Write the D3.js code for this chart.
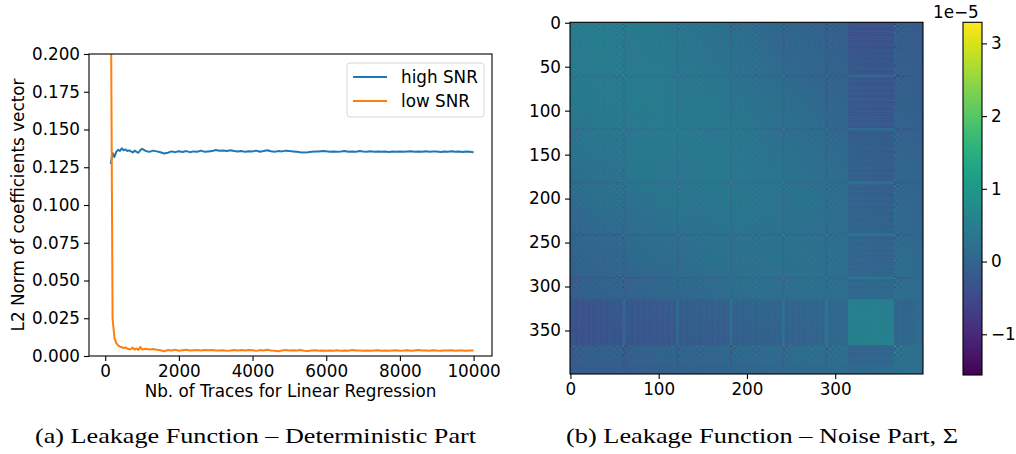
<!DOCTYPE html>
<html>
<head>
<meta charset="utf-8">
<script src="https://d3js.org/d3.v7.min.js"></script>
<style>
body { margin: 0; background: #fff; }
svg text { font-family: "DejaVu Sans", sans-serif; fill: #000; }
.caption { font-family: "Liberation Serif", "DejaVu Serif", serif; }
</style>
</head>
<body>
<svg id="fig" width="1016" height="454"></svg>
<script>
// ---------- (a) data: L2 norm vs number of traces ----------
const traces = d3.range(150, 1001, 50).concat(d3.range(1100, 10001, 100));
const highSNR = [
  0.1272, 0.1345, 0.1318, 0.1352, 0.1365, 0.1358, 0.1376, 0.1362, 0.1368, 0.1357,
  0.1362, 0.1355, 0.1348, 0.1360, 0.1352, 0.1346, 0.1362, 0.1372,
  0.1358, 0.1352, 0.1360, 0.1355, 0.1349, 0.1341, 0.1346, 0.1355, 0.1350, 0.1356,
  0.1351, 0.1357, 0.1350, 0.1355, 0.1353, 0.1360, 0.1352, 0.1355, 0.1357, 0.1364,
  0.1359, 0.1361, 0.1358, 0.1362, 0.1357, 0.1354, 0.1358, 0.1352, 0.1356, 0.1355,
  0.1360, 0.1353, 0.1357, 0.1362, 0.1356, 0.1352, 0.1358, 0.1355, 0.1360, 0.1357,
  0.1355, 0.1353, 0.1350, 0.1348, 0.1349, 0.1352, 0.1355, 0.1354, 0.1357, 0.1356,
  0.1353, 0.1355, 0.1352, 0.1354, 0.1357, 0.1353, 0.1355, 0.1352, 0.1358, 0.1354,
  0.1352, 0.1356, 0.1353, 0.1355, 0.1352, 0.1354, 0.1351, 0.1354, 0.1353, 0.1355,
  0.1352, 0.1354, 0.1356, 0.1352, 0.1355, 0.1353, 0.1356, 0.1352, 0.1354, 0.1355,
  0.1351, 0.1355, 0.1353, 0.1356, 0.1352, 0.1354, 0.1351, 0.1355, 0.1353, 0.1350
];
const lowSNR = [
  0.2600, 0.0250, 0.0120, 0.0085, 0.0070, 0.0062, 0.0058, 0.0052, 0.0057, 0.0049,
  0.0045, 0.0047, 0.0055, 0.0042, 0.0050, 0.0040, 0.0060, 0.0043,
  0.0048, 0.0043, 0.0046, 0.0041, 0.0038, 0.0031, 0.0040, 0.0036, 0.0042, 0.0035,
  0.0038, 0.0041, 0.0036, 0.0038, 0.0040, 0.0037, 0.0039, 0.0038, 0.0040, 0.0037,
  0.0036, 0.0038, 0.0034, 0.0036, 0.0039, 0.0037, 0.0039, 0.0036, 0.0040, 0.0038,
  0.0034, 0.0039, 0.0036, 0.0041, 0.0037, 0.0035, 0.0032, 0.0037, 0.0039, 0.0036,
  0.0038, 0.0036, 0.0039, 0.0035, 0.0033, 0.0036, 0.0038, 0.0035, 0.0037, 0.0034,
  0.0036, 0.0035, 0.0038, 0.0034, 0.0036, 0.0035, 0.0039, 0.0036, 0.0037, 0.0035,
  0.0037, 0.0034, 0.0036, 0.0038, 0.0035, 0.0037, 0.0034, 0.0036, 0.0038, 0.0035,
  0.0036, 0.0038, 0.0035, 0.0037, 0.0039, 0.0036, 0.0037, 0.0035, 0.0038, 0.0036,
  0.0035, 0.0037, 0.0036, 0.0038, 0.0035, 0.0037, 0.0036, 0.0035, 0.0037, 0.0036
];
const seriesNames = ["high SNR", "low SNR"];
const seriesColors = ["#1f77b4", "#ff7f0e"];
const xTicksA = [0, 2000, 4000, 6000, 8000, 10000];
const yTicksA = [0, 0.025, 0.05, 0.075, 0.1, 0.125, 0.15, 0.175, 0.2];

// ---------- (b) data: noise covariance Sigma (x 1e-5) ----------
const covSize = 400;
const xTicksB = [0, 100, 200, 300];
const yTicksB = [0, 50, 100, 150, 200, 250, 300, 350];
const cbarDomain = [-1.56, 3.29];
const cbarTicks = [-1, 0, 1, 2, 3];
// band level by distance from diagonal, at |i-j| = 0, 50, ..., 400
const distLevels = [0.3, 0.28, 0.22, 0.13, 0.03, -0.05, -0.12, -0.16, -0.2];
// level by index, at i = 0, 50, ..., 400
const idxLevels = [0.05, 0.05, 0.04, 0.03, 0.0, -0.04, -0.06, -0.06, -0.05];
// index segments seen as stripes in the picture
const segStart  = [0, 60, 120, 181, 240, 289, 315, 367, 390];
const segLoad   = [0.24, 0.24, 0.23, 0.23, 0.21, 0.15, -0.6, 0.24, 0.08];
const segStripe = [0.8, 0.8, 0.8, 0.8, 0.8, 0.8, 0.12, 0.8, 0.3];
const segFine   = [0.75, 0.65, 0.65, 0.65, 0.6, 0.65, 0.25, 0.85, 0.15];
// sub-bands repeating inside every segment (offset from segment start, gain)
const bandOffsets = [0, 6, 14, 26, 34, 46, 54];
const bandGain    = [2.0, 1.3, 0.5, 1.4, 0.4, 1.1, 0.6];
const fineMotif = [1.0, -0.4, 0.2, -0.9, 0.5, -0.6, 0.3];

const svg = d3.select("#fig");
const fs = 16.8;

// ================= panel (a) =================
const xA = d3.scaleLinear().domain([-440, 10500]).range([89, 492]);
const yA = d3.scaleLinear().domain([0, 0.2]).range([356, 54]);

svg.append("clipPath").attr("id", "clipA")
  .append("rect").attr("x", 89).attr("y", 54).attr("width", 403).attr("height", 302);

const line = d3.line().x((d, i) => xA(traces[i])).y(d => yA(d));
[highSNR, lowSNR].forEach((s, k) => {
  svg.append("path").datum(s)
    .attr("clip-path", "url(#clipA)")
    .attr("d", line)
    .attr("fill", "none")
    .attr("stroke", seriesColors[k])
    .attr("stroke-width", 2)
    .attr("stroke-linejoin", "round");
});

const axA_x = svg.append("g").attr("transform", "translate(0,356)")
  .call(d3.axisBottom(xA).tickValues(xTicksA).tickFormat(d3.format("d")).tickSizeInner(5).tickSizeOuter(0).tickPadding(4));
const axA_y = svg.append("g").attr("transform", "translate(89,0)")
  .call(d3.axisLeft(yA).tickValues(yTicksA).tickFormat(d3.format(".3f")).tickSizeInner(5).tickSizeOuter(0).tickPadding(4));
[axA_x, axA_y].forEach(g => {
  g.select(".domain").remove();
  g.selectAll("line").attr("stroke", "#000").attr("stroke-width", 1.1);
  g.selectAll("text").attr("font-size", fs).attr("font-family", "DejaVu Sans");
});
svg.append("rect").attr("x", 89).attr("y", 54).attr("width", 403).attr("height", 302)
  .attr("fill", "none").attr("stroke", "#000").attr("stroke-width", 1.1);

svg.append("text").attr("x", 290.5).attr("y", 397).attr("text-anchor", "middle")
  .attr("font-size", fs).text("Nb. of Traces for Linear Regression");
svg.append("text").attr("transform", "translate(24,205) rotate(-90)").attr("text-anchor", "middle")
  .attr("font-size", fs).text("L2 Norm of coefficients vector");

// legend
const leg = svg.append("g");
leg.append("rect").attr("x", 347).attr("y", 63).attr("width", 137).attr("height", 54).attr("rx", 3)
  .attr("fill", "#fff").attr("fill-opacity", 0.8).attr("stroke", "#d6d6d6").attr("stroke-width", 1);
seriesNames.forEach((n, k) => {
  const yy = 77 + k * 24;
  leg.append("line").attr("x1", 353).attr("x2", 387).attr("y1", yy).attr("y2", yy)
    .attr("stroke", seriesColors[k]).attr("stroke-width", 2);
  leg.append("text").attr("x", 401).attr("y", yy + 6).attr("font-size", fs).text(n);
});

// ================= panel (b) =================
const x0 = 570, x1 = 923, y0 = 22.3, y1 = 374;
const xB = d3.scaleLinear().domain([-0.5, covSize - 0.5]).range([x0, x1]);
const yB = d3.scaleLinear().domain([-0.5, covSize - 0.5]).range([y0, y1]);
const color = d3.scaleSequential(d3.interpolateViridis).domain(cbarDomain);

const distAt = d3.scaleLinear().domain(d3.range(0, 401, 50)).range(distLevels).clamp(true);
const lvlAt = d3.scaleLinear().domain(d3.range(0, 401, 50)).range(idxLevels).clamp(true);

const loadIdx = [], fineIdx = [];
for (let k = 0; k < covSize; k++) {
  const s = d3.bisectRight(segStart, k) - 1, off = k - segStart[s];
  const b = d3.bisectRight(bandOffsets, off) - 1;
  const m = fineMotif[k % fineMotif.length];
  let a = segLoad[s] * (1 + segStripe[s] * m);
  if (s >= 1 && s <= 5 && off < 3) a = -0.3;
  loadIdx.push(a);
  fineIdx.push(segFine[s] * fineMotif[(k + 3) % fineMotif.length] * bandGain[b]);
}

const canvas = document.createElement("canvas");
canvas.width = covSize; canvas.height = covSize;
const ctx = canvas.getContext("2d");
const img = ctx.createImageData(covSize, covSize);
for (let i = 0; i < covSize; i++) {
  for (let j = 0; j < covSize; j++) {
    const v = distAt(Math.abs(i - j)) + lvlAt(i) + lvlAt(j)
      + loadIdx[i] * loadIdx[j] + 0.75 * fineIdx[i] * fineIdx[j];
    const c = d3.rgb(color(Math.max(cbarDomain[0], Math.min(cbarDomain[1], v))));
    const p = (i * covSize + j) * 4;
    img.data[p] = c.r; img.data[p + 1] = c.g; img.data[p + 2] = c.b; img.data[p + 3] = 255;
  }
}
ctx.putImageData(img, 0, 0);
svg.append("image").attr("href", canvas.toDataURL())
  .attr("x", x0).attr("y", y0).attr("width", x1 - x0).attr("height", y1 - y0)
  .attr("preserveAspectRatio", "none");
svg.append("rect").attr("x", x0).attr("y", y0).attr("width", x1 - x0).attr("height", y1 - y0)
  .attr("fill", "none").attr("stroke", "#000").attr("stroke-width", 1.1);

const axB_x = svg.append("g").attr("transform", `translate(0,${y1})`)
  .call(d3.axisBottom(xB).tickValues(xTicksB).tickSizeInner(5).tickSizeOuter(0).tickPadding(4));
const axB_y = svg.append("g").attr("transform", `translate(${x0},0)`)
  .call(d3.axisLeft(yB).tickValues(yTicksB).tickSizeInner(5).tickSizeOuter(0).tickPadding(4));

// colorbar
const cbX = 963, cbW = 19, cbTop = 22.3, cbBot = 375;
const grad = svg.append("defs").append("linearGradient").attr("id", "viridis")
  .attr("x1", 0).attr("y1", 1).attr("x2", 0).attr("y2", 0);
d3.range(0, 1.0001, 0.05).forEach(t => {
  grad.append("stop").attr("offset", t).attr("stop-color", d3.interpolateViridis(t));
});
svg.append("rect").attr("x", cbX).attr("y", cbTop).attr("width", cbW).attr("height", cbBot - cbTop)
  .attr("fill", "url(#viridis)").attr("stroke", "#000").attr("stroke-width", 1.1);
const yC = d3.scaleLinear().domain(cbarDomain).range([cbBot, cbTop]);
const axC = svg.append("g").attr("transform", `translate(${cbX + cbW},0)`)
  .call(d3.axisRight(yC).tickValues(cbarTicks).tickFormat(d => d < 0 ? "\u2212" + Math.abs(d) : d)
    .tickSizeInner(5).tickSizeOuter(0).tickPadding(4));
svg.append("text").attr("x", 933).attr("y", 18).attr("font-size", fs).text("1e\u22125");

[axB_x, axB_y, axC].forEach(g => {
  g.select(".domain").remove();
  g.selectAll("line").attr("stroke", "#000").attr("stroke-width", 1.1);
  g.selectAll("text").attr("font-size", fs).attr("font-family", "DejaVu Sans");
});

// ================= captions =================
svg.append("text").attr("class", "caption").attr("x", 35).attr("y", 443)
  .attr("font-size", 21).attr("textLength", 441).attr("lengthAdjust", "spacingAndGlyphs")
  .text("(a) Leakage Function \u2013 Deterministic Part");
svg.append("text").attr("class", "caption").attr("x", 566).attr("y", 443)
  .attr("font-size", 21).attr("textLength", 392).attr("lengthAdjust", "spacingAndGlyphs")
  .text("(b) Leakage Function \u2013 Noise Part, \u03A3");
</script>
</body>
</html>
